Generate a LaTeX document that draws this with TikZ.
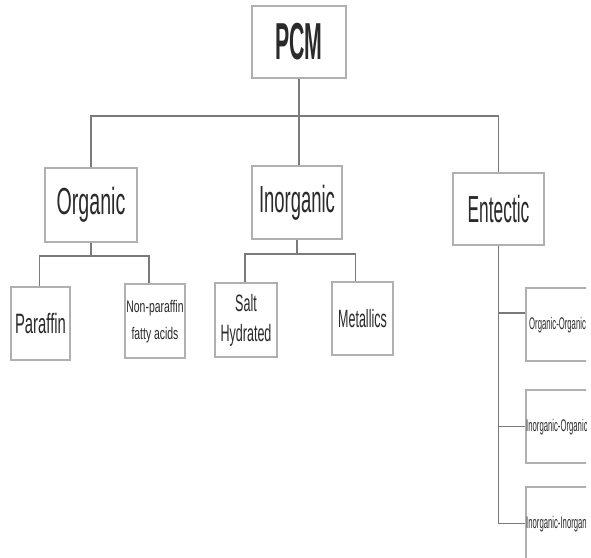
\documentclass[tikz,border=0pt]{standalone}
\usepackage{fontspec}
\setmainfont{Liberation Sans}
\usepackage{graphicx}
\definecolor{linegray}{HTML}{7A7A7A}
\definecolor{boxgray}{HTML}{B0B0B0}
\definecolor{txt}{HTML}{2A2A2A}
\newcommand{\sq}[2]{\scalebox{#1}[1]{#2}}
\begin{document}
\begin{tikzpicture}[x=1pt,y=-1pt,
  box/.style={draw=boxgray, line width=1.4pt, inner sep=0pt, text=txt, fill=white},
  lbl/.style={inner sep=0pt, text=txt},
  conn/.style={draw=linegray, line width=1.8pt}]
\useasboundingbox (0,0) rectangle (591,557);
\fill[white] (0,0) rectangle (591,557);
\begin{scope}
\clip (0,0) rectangle (586,557);
% level 0
\node[box, minimum width=94pt, minimum height=72pt] (pcm) at (299,42)
  {\fontsize{52}{52}\selectfont\bfseries\sq{0.41}{PCM}};
% level 1
\node[box, minimum width=92pt, minimum height=74pt] (org) at (91,205)
  {\fontsize{37.7}{38}\selectfont\sq{0.52}{Organic}};
\node[box, minimum width=90pt, minimum height=73pt] (inorg) at (297,202.5)
  {\fontsize{37.7}{38}\selectfont\sq{0.49}{Inorganic}};
\node[box, minimum width=91pt, minimum height=72pt] (ent) at (498.5,209)
  {\fontsize{37.7}{38}\selectfont\sq{0.46}{Entectic}};
% level 2
\node[box, minimum width=59pt, minimum height=73pt] (par) at (40.5,323.5)
  {\fontsize{28}{28}\selectfont\sq{0.53}{Paraffin}};
\node[box, minimum width=60pt, minimum height=74pt] (nonpar) at (155,321)
  {\fontsize{16.8}{27}\selectfont\sq{0.62}{\begin{tabular}{@{}c@{}}Non-paraffin\\fatty acids\end{tabular}}};
\node[box, minimum width=62pt, minimum height=74pt] (salt) at (246,320)
  {\fontsize{23.7}{30}\selectfont\sq{0.53}{\begin{tabular}{@{}c@{}}Salt\\Hydrated\end{tabular}}};
\node[box, minimum width=61pt, minimum height=73pt] (met) at (362.5,318.5)
  {\fontsize{25}{25}\selectfont\sq{0.5}{Metallics}};
% eutectic children
\node[box, minimum width=74pt, minimum height=73pt] (ee1) at (563,324.5) {};
\node[box, minimum width=74pt, minimum height=73pt] (ee2) at (563,426.5) {};
\node[box, minimum width=74pt, minimum height=73pt] (ee3) at (563,523.5) {};
% connectors
\coordinate (bus) at (299,116);
\draw[conn] (pcm.south) -- (pcm.south |- inorg.north);
\draw[conn] (org.north) |- (bus) -| (ent.north);
\coordinate (ob) at (91,256);
\draw[conn] (org.south) -- (ob);
\draw[conn] ([xshift=-1pt]par.north) |- (ob) -| ([xshift=-6pt]nonpar.north);
\coordinate (ib) at (297,254);
\draw[conn] (inorg.south) -- (ib);
\draw[conn] ([xshift=-1pt]salt.north) |- (ib) -| ([xshift=-7pt]met.north);
\coordinate (b1) at (498.5,313);
\coordinate (b2) at (498.5,426.5);
\draw[conn] (ent.south) |- (ee3.west);
\draw[conn] (b1) -- (b1 -| ee1.west);
\draw[conn] (b2) -- (b2 -| ee2.west);
% labels of eutectic children
\node[lbl, anchor=west] (t1) at (529,325) {\fontsize{16.8}{17}\selectfont\sq{0.46}{Organic-Organic}};
\node[lbl, anchor=west] (t2) at (526,427) {\fontsize{16.8}{17}\selectfont\sq{0.46}{Inorganic-Organic}};
\node[lbl, anchor=west] (t3) at (526,524) {\fontsize{16.8}{17}\selectfont\sq{0.46}{Inorganic-Inorganic}};
\end{scope}
\end{tikzpicture}
\end{document}
